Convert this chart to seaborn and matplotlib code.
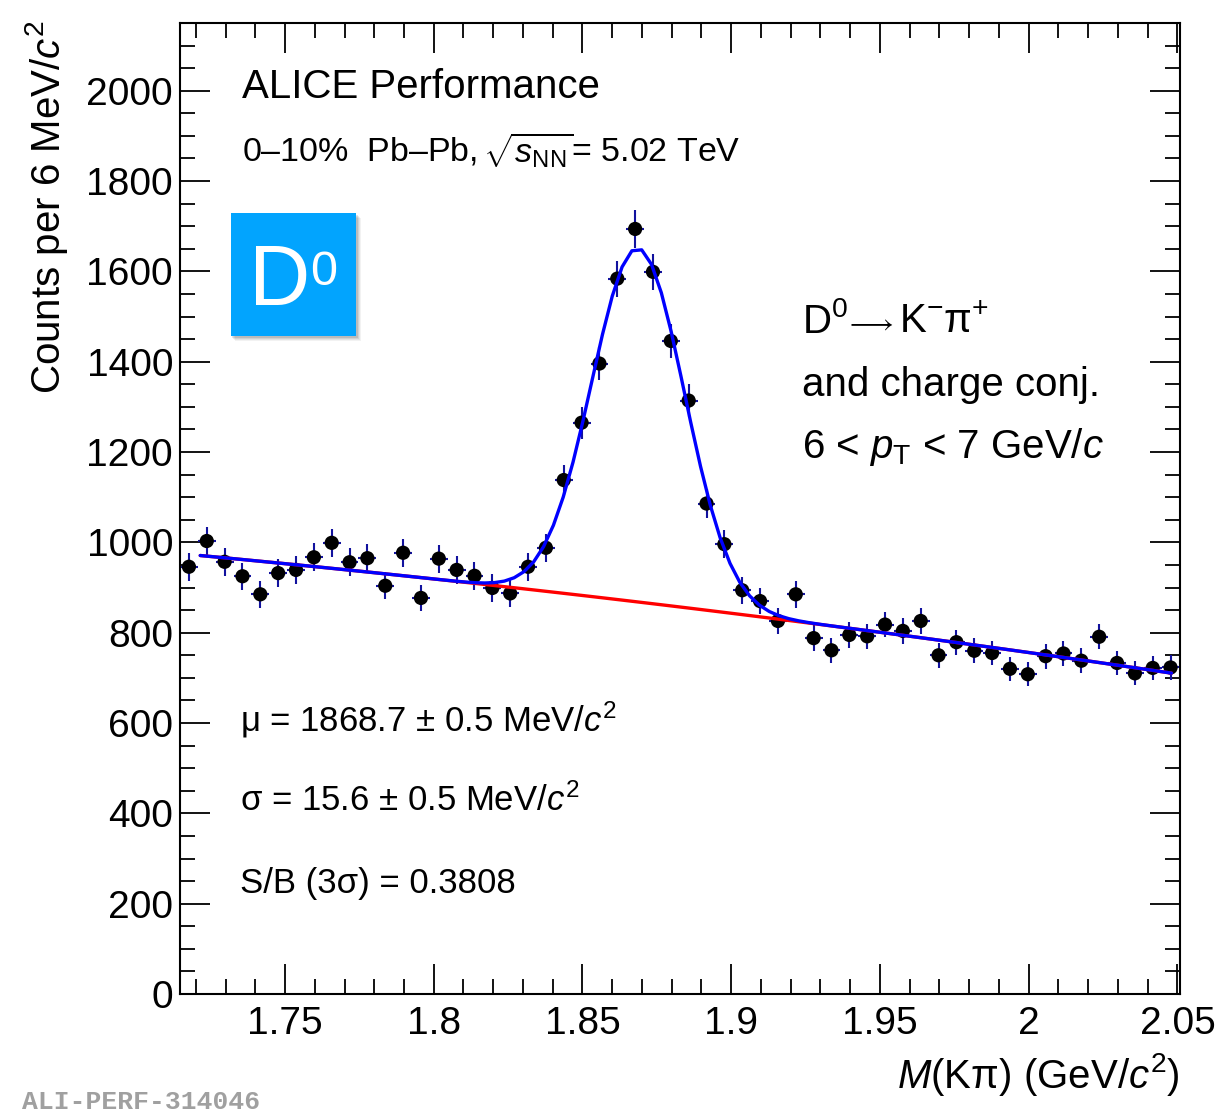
import numpy as np
import pandas as pd
import matplotlib
matplotlib.use("Agg")
import matplotlib.pyplot as plt
from matplotlib.ticker import MultipleLocator, FuncFormatter
from matplotlib.patches import Rectangle
import seaborn as sns

# ---------------- data ----------------
mass_centers = [
    1.7177, 1.7237, 1.7297, 1.7357, 1.7417, 1.7477, 1.7537, 1.7597, 1.7657, 1.7717,
    1.7777, 1.7837, 1.7897, 1.7957, 1.8017, 1.8077, 1.8137, 1.8197, 1.8257, 1.8317,
    1.8377, 1.8437, 1.8497, 1.8557, 1.8617, 1.8677, 1.8737, 1.8797, 1.8857, 1.8917,
    1.8977, 1.9037, 1.9097, 1.9157, 1.9217, 1.9277, 1.9337, 1.9397, 1.9457, 1.9517,
    1.9577, 1.9637, 1.9697, 1.9757, 1.9817, 1.9877, 1.9937, 1.9997, 2.0057, 2.0117,
    2.0177, 2.0237, 2.0297, 2.0357, 2.0417, 2.0477,
]
counts = [
    946, 1003, 957, 925, 885, 932, 939, 967, 999, 956,
    965, 904, 977, 877, 964, 939, 926, 899, 887, 946,
    988, 1138, 1265, 1396, 1584, 1694, 1599, 1446, 1314, 1086,
    996, 894, 870, 826, 885, 788, 761, 795, 792, 818,
    804, 826, 750, 779, 760, 755, 720, 708, 748, 754,
    738, 791, 733, 710, 722, 723,
]
bin_half_width = 0.003
x_range = (1.7147, 2.0507)
y_range = (0, 2150)

# fit function parameters (Gaussian signal + 2nd-order background)
fit_lo, fit_hi = 1.7215, 2.048
fit_mu = 1.8687
fit_sigma = 0.0156
fit_amp = 783.0
bkg_c0, bkg_c1, bkg_c2 = 868.0, -780.0, -550.0

# ---------------- style ----------------
sns.set_theme(style="ticks")
plt.rcParams["font.family"] = ["Liberation Sans", "DejaVu Sans"]
plt.rcParams["text.color"] = "black"
plt.rcParams["axes.labelcolor"] = "black"
plt.rcParams["xtick.color"] = "black"
plt.rcParams["ytick.color"] = "black"
plt.rcParams["mathtext.fontset"] = "custom"
plt.rcParams["mathtext.rm"] = "Liberation Sans"
plt.rcParams["mathtext.it"] = "Liberation Sans:italic"
plt.rcParams["mathtext.bf"] = "Liberation Sans:bold"
plt.rcParams["mathtext.sf"] = "Liberation Sans"

W, H = 1220, 1112
fig = plt.figure(figsize=(W / 100, H / 100), dpi=100)
fig.patch.set_facecolor("white")


def fx(px):
    return px / W


def fy(py):
    return 1 - py / H


ax = fig.add_axes([fx(180), fy(994), fx(1179.5) - fx(180), fy(23) - fy(994)])
ax.set_facecolor("white")

df = pd.DataFrame({"mass": mass_centers, "counts": counts})
df["err"] = np.sqrt(df["counts"])

xfit = np.linspace(fit_lo, fit_hi, 100)
bkg = bkg_c0 + bkg_c1 * (xfit - fit_mu) + bkg_c2 * (xfit - fit_mu) ** 2
total = bkg + fit_amp * np.exp(-0.5 * ((xfit - fit_mu) / fit_sigma) ** 2)
fit_df = pd.DataFrame({"mass": xfit, "bkg": bkg, "total": total})

ax.errorbar(df["mass"], df["counts"], yerr=df["err"], xerr=bin_half_width,
            fmt="none", ecolor="#12129e", elinewidth=1.5, capsize=0, zorder=2)
sns.scatterplot(data=df, x="mass", y="counts", color="black", s=105,
                edgecolor="none", linewidth=0, ax=ax, zorder=3)
sns.lineplot(data=fit_df, x="mass", y="bkg", color="#ff0000", linewidth=2.4,
             ax=ax, estimator=None, sort=False, zorder=4)
sns.lineplot(data=fit_df, x="mass", y="total", color="#0000ff", linewidth=2.4,
             ax=ax, estimator=None, sort=False, zorder=5)

ax.set_xlim(*x_range)
ax.set_ylim(*y_range)
ax.set_xlabel("")
ax.set_ylabel("")

ax.xaxis.set_major_locator(MultipleLocator(0.05))
ax.xaxis.set_minor_locator(MultipleLocator(0.01))
ax.yaxis.set_major_locator(MultipleLocator(200))
ax.yaxis.set_minor_locator(MultipleLocator(50))
ax.xaxis.set_major_formatter(FuncFormatter(lambda v, p: f"{v:g}"))
ax.yaxis.set_major_formatter(FuncFormatter(lambda v, p: f"{v:g}"))

for s in ax.spines.values():
    s.set_linewidth(1.5)
    s.set_color("black")
    s.set_visible(True)

ax.tick_params(which="both", direction="in", top=True, right=True,
               width=1.3, color="black", labelcolor="black")
ax.tick_params(which="major", length=21.5, labelsize=28)
ax.tick_params(axis="x", which="major", pad=9)
ax.tick_params(axis="y", which="major", pad=5)
ax.tick_params(which="minor", length=10.5)

# ---------------- text ----------------
fig.text(fx(47), fy(20), r"Counts per 6 MeV/$c^{2}$", rotation=90,
         ha="center", va="top", fontsize=29)
fig.text(fx(1180), fy(1088), r"$M$(Kπ) (GeV/$c^{2}$)", ha="right",
         va="baseline", fontsize=29)

fig.text(fx(242), fy(98), "ALICE Performance", ha="left", va="baseline",
         fontsize=29)
fig.text(fx(242), fy(163.5), r"0–10%  Pb–Pb,$\,\sqrt{s_{\rm NN}}$= 5.02 TeV",
         ha="left", va="baseline", fontsize=24.5)

# D0 badge with soft shadow
bx0, by0, bx1, by1 = 231, 213, 356, 336
for i, a in enumerate([0.05, 0.06, 0.08, 0.10]):
    off = 5 - i
    fig.patches.append(Rectangle((fx(bx0 + off - 1), fy(by1 + off)),
                                 fx(bx1 - bx0 + 1), fy(by0) - fy(by1),
                                 transform=fig.transFigure, facecolor="black",
                                 edgecolor="none", alpha=a, zorder=10))
fig.patches.append(Rectangle((fx(bx0), fy(by1)), fx(bx1 - bx0), fy(by0) - fy(by1),
                             transform=fig.transFigure, facecolor="#02a4fe",
                             edgecolor="none", zorder=11))
fig.text(fx(249), fy(305), "D", color="white", fontsize=61, ha="left",
         va="baseline", zorder=12)
fig.text(fx(310), fy(285), "0", color="white", fontsize=35, ha="left",
         va="baseline", zorder=12)

fig.text(fx(802), fy(333), r"D$^{0}$", ha="left", va="baseline", fontsize=29)
fig.text(fx(845), fy(331), r"$\longrightarrow$", ha="left", va="baseline",
         fontsize=20)
fig.text(fx(899), fy(333), r"K$^{-}$π$^{+}$", ha="left", va="baseline",
         fontsize=29)
fig.text(fx(802), fy(396), "and charge conj.", ha="left", va="baseline",
         fontsize=29)
fig.text(fx(802), fy(458), r"6 < $p_{\rm T}$ < 7 GeV/$c$", ha="left",
         va="baseline", fontsize=29)

fig.text(fx(240), fy(731), r"μ = 1868.7 ± 0.5 MeV/$c^{2}$", ha="left",
         va="baseline", fontsize=25)
fig.text(fx(240), fy(811), r"σ = 15.6 ± 0.5 MeV/$c^{2}$", ha="left",
         va="baseline", fontsize=25)
fig.text(fx(240), fy(893), "S/B (3σ) = 0.3808", ha="left", va="baseline",
         fontsize=25)

fig.text(fx(22), fy(1109), "ALI-PERF-314046", ha="left", va="baseline",
         fontsize=19, color="#a0a0a0", fontweight="bold",
         family=["Liberation Mono", "DejaVu Sans Mono"])

fig.savefig("out.png", dpi=100, facecolor="white")
